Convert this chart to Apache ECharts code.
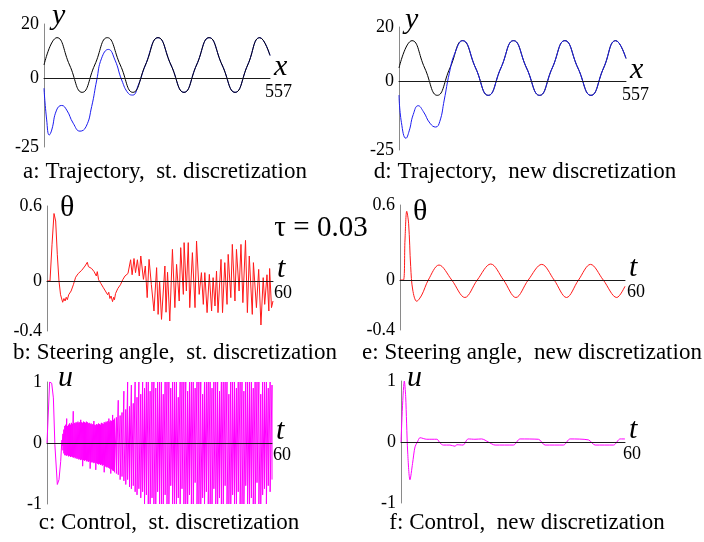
<!DOCTYPE html>
<html>
<head>
<meta charset="utf-8">
<script src="https://cdn.jsdelivr.net/npm/echarts@6/dist/echarts.min.js"></script>
<style>
  html, body { margin: 0; padding: 0; background: #fff; }
  #main { width: 704px; height: 542px; }
</style>
</head>
<body>
<div id="main"></div>
<script>
var chartDom = document.getElementById('main');
var myChart = echarts.init(chartDom);
var option;

var serif = "'Liberation Serif', 'DejaVu Serif', serif";

// trajectory: reference path (black), same in a and d
var refX = [0, 32, 63, 94, 125, 156, 188, 219, 250, 281, 313, 345, 376, 407, 439, 471, 502, 532, 557];
var refY = [5, 15, 5, -5, 5, 15, 5, -5, 5, 15, 5, -5, 5, 15, 5, -5, 5, 15, 8.5];

// a: vehicle path, standard discretization (blue) until it joins the reference
var aBlueX = [0, 6.6, 13, 19, 31, 43.6, 56, 72, 88.7, 103.5, 117.5, 130, 142, 158.6, 175, 191.5, 208, 218.6, 232.5];
var aBlueY = [-3.5, -15.1, -20.6, -18.8, -11.5, -9.8, -11.5, -16.3, -19.2, -17.6, -10.2, -0.5, 7.5, 10.7, 6.8, -0.5, -5.4, -6, -2.3];

// d: vehicle path, new discretization (blue)
var dBlueX = [0, 6, 17, 25, 35, 47, 60, 76, 90, 100, 111, 123.5, 137];
var dBlueY = [-4.9, -15, -20.7, -18, -12, -8.8, -11, -15.2, -16.6, -14.6, -6.7, 3.1, 10.4];

// b: steering angle, standard discretization
var bT = [0, 0.8, 1.33, 1.86, 2.3, 2.74, 3.18, 3.6, 4.16, 4.5, 4.8, 5.1, 5.4, 5.75, 6.1, 6.4, 6.7, 7.0, 7.3, 7.6,
  8.3, 9.2, 10.1, 10.7, 11.0, 11.3, 11.85, 12.2, 12.5, 12.8, 13.1, 13.35, 13.7, 13.95, 14.3, 14.6, 14.9, 15.2, 15.5, 15.8,
  16.1, 16.4, 16.7, 17.0, 17.4, 17.7, 17.9, 18.2, 18.5, 18.8, 19.1, 19.5, 19.8, 20.1, 20.4, 20.7, 21.1, 21.5, 21.8, 22.2,
  22.6, 23.1, 23.5, 24.0, 24.5, 24.9, 25.6, 26.1, 26.6, 27.1, 27.7, 28.4, 29.1, 29.5, 29.9, 30.4, 31.3, 31.6, 32.0, 32.6,
  33.3, 33.95, 34.4, 35.1, 35.5, 36.2, 36.4, 37.0, 37.5, 37.9, 38.6, 39.3, 39.7, 40.4, 41.0, 41.5, 41.9, 42.5, 43.1, 43.7,
  44.1, 44.6, 45.0, 45.4, 46.2, 46.6, 47.2, 47.8, 48.1, 48.8, 49.2, 49.9, 50.3, 51.0, 51.5, 52.0, 52.7, 53.2, 53.7, 54.5,
  54.8, 55.6, 56.2, 56.8, 57.4, 57.8, 58.4, 58.9, 59.1, 59.6, 60.0];
var bTheta = [0, 0, 0.29, 0.54, 0.48, 0.21, 0, -0.11, -0.17, -0.14, -0.16, -0.13, -0.15, -0.11, -0.12, -0.08, -0.09, -0.03, -0.04, 0.03,
  0.06, 0.085, 0.12, 0.15, 0.115, 0.125, 0.1, 0.105, 0.075, 0.08, 0.04, 0.075, 0.01, 0.02, -0.02, -0.005, -0.05, -0.04, -0.08, -0.065,
  -0.11, -0.09, -0.14, -0.12, -0.165, -0.13, -0.15, -0.1, -0.115, -0.06, -0.075, -0.03, -0.04, 0.01, -0.005, 0.04, 0.03, 0.06, 0.045, 0.17,
  0.05, 0.18, 0.067, 0.17, 0.04, 0.2, 0.013, 0.12, -0.133, 0.173, -0.027, -0.24, 0.107, -0.267, 0.0, -0.307, 0.12, -0.25, 0.07, -0.32,
  0.253, -0.213, 0.133, -0.16, 0.267, -0.107, 0.307, -0.08, 0.307, -0.213, 0.227, -0.213, 0.32, -0.107, 0.067, -0.187, 0.067, -0.253, 0.053, -0.24,
  0.027, -0.2, 0.08, -0.253, 0.173, -0.253, 0.147, -0.187, 0.213, -0.133, 0.293, -0.16, 0.253, -0.08, 0.293, -0.173, 0.325, -0.253, 0.2, -0.267,
  0.147, -0.213, 0.093, -0.352, 0.027, -0.187, 0.05, -0.24, 0.1, -0.213, -0.16];

// e: steering angle, new discretization
var eT = [0, 0.9, 1.33, 1.8, 2.3, 2.85, 3.4, 4.45, 5.8, 7.55, 10.4, 13.8, 17.3, 20.6, 24.2, 27.6, 30.9, 34.2, 37.8, 41.1, 44.4, 47.6, 50.8, 54.2, 57.8, 60];
var eTheta = [0, 0, 0.32, 0.55, 0.45, 0.107, -0.08, -0.17, -0.12, 0, 0.12, 0, -0.14, 0, 0.128, 0, -0.14, 0, 0.125, 0, -0.14, 0, 0.125, 0, -0.14, -0.05];

// c: control, standard discretization
var cHeadT = [0, 0.7, 1.25, 1.7, 2.1, 2.75, 3.2, 3.65, 3.9];
var cHeadU = [0, 1, 0.98, 0.74, -0.03, -0.68, -0.6, -0.3, -0.03];
// chattering, sampled every 0.25 from t = 4 to 18 (upper / lower ends of each stroke)
var cDenseStart = 4, cDenseStep = 0.25;
var cDenseHi = [0.05, 0.15, 0.22, 0.28, 0.3, 0.4, 0.28, 0.3, 0.32, 0.3, 0.33, 0.31, 0.52, 0.33, 0.32, 0.34, 0.33, 0.35, 0.33, 0.34,
  0.38, 0.34, 0.33, 0.35, 0.34, 0.33, 0.35, 0.34, 0.32, 0.33, 0.31, 0.32, 0.3, 0.31, 0.36, 0.3, 0.29, 0.31, 0.3, 0.32,
  0.31, 0.3, 0.33, 0.32, 0.31, 0.34, 0.33, 0.35, 0.34, 0.36, 0.4, 0.35, 0.37, 0.36, 0.46, 0.38, 0.4];
var cDenseLo = [-0.05, -0.12, -0.17, -0.2, -0.2, -0.21, -0.2, -0.22, -0.21, -0.23, -0.22, -0.23, -0.24, -0.23, -0.25, -0.24, -0.26, -0.25, -0.27, -0.26,
  -0.28, -0.27, -0.38, -0.28, -0.29, -0.28, -0.3, -0.29, -0.31, -0.3, -0.42, -0.31, -0.32, -0.31, -0.33, -0.32, -0.44, -0.33, -0.34, -0.35,
  -0.34, -0.36, -0.35, -0.37, -0.36, -0.48, -0.38, -0.39, -0.4, -0.39, -0.41, -0.42, -0.5, -0.43, -0.45, -0.46, -0.48];
// sampled every 0.5 from t = 18.5 to 60
var cWideStart = 18.5, cWideStep = 0.5;
var cWideHi = [0.42, 0.7, 0.45, 0.5, 0.85, 0.55, 1, 0.6, 0.95, 0.65, 1, 0.75, 1, 0.8, 1, 0.9, 1, 1, 0.85, 1,
  1, 0.9, 1, 1, 1, 0.8, 1, 1, 1, 0.9, 1, 1, 1, 0.75, 1, 1, 1, 1, 0.85, 1,
  1, 1, 0.9, 1, 1, 1, 0.8, 1, 1, 1, 1, 0.9, 1, 1, 1, 0.85, 1, 1, 1, 1,
  0.8, 1, 1, 1, 0.9, 1, 1, 1, 0.85, 1, 1, 1, 1, 0.9, 1, 1, 1, 0.8, 1, 1,
  1, 0.9, 1, 0.95];
var cWideLo = [-0.5, -0.52, -0.6, -0.55, -0.62, -0.68, -0.6, -0.72, -0.75, -0.7, -0.8, -0.85, -0.75, -0.9, -0.8, -1, -0.85, -1, -1, -0.9,
  -1, -1, -0.8, -1, -1, -1, -0.85, -1, -1, -0.7, -1, -1, -1, -0.9, -1, -0.75, -1, -1, -1, -0.85,
  -1, -1, -0.65, -1, -1, -1, -0.9, -1, -0.8, -1, -1, -1, -0.75, -1, -1, -0.9, -1, -1, -0.7, -1,
  -1, -1, -0.85, -1, -1, -0.8, -1, -1, -1, -0.7, -1, -1, -0.9, -1, -1, -0.65, -1, -1, -0.85, -0.75,
  -1, -0.7, -0.8, -0.6];

// f: control, new discretization
var fT = [0, 0.9, 1.25, 1.5, 1.8, 2.4, 3.1, 3.75, 4.4, 5.1, 6.9, 9.6, 10.5, 11.35, 13.1, 14.5, 14.9, 16.6, 18, 19.8, 21.6, 23.4, 25.2, 30.1, 31.9, 36.8, 38.6, 43.5, 45.3, 50.2, 52, 56.9, 58.7, 60];
var fU = [0, 1, 0.75, 0.31, -0.18, -0.62, -0.35, -0.08, 0, 0.07, 0.045, 0.045, -0.02, -0.05, -0.05, -0.07, -0.045, -0.05, 0.05, 0.045, 0.05, 0, -0.05, -0.05, 0.05, 0.045, -0.05, -0.05, 0.05, 0.035, -0.05, -0.05, 0.05, 0.05];

var captions = [
  'a: Trajectory,  st. discretization',
  'd: Trajectory,  new discretization',
  'b: Steering angle,  st. discretization',
  'e: Steering angle,  new discretization',
  'c: Control,  st. discretization',
  'f: Control,  new discretization'
];

function pairs(xs, ys) {
  var out = [];
  for (var i = 0; i < xs.length; i++) out.push([xs[i], ys[i]]);
  return out;
}

function joinRef(xs, ys) {
  var out = pairs(xs, ys);
  var last = xs[xs.length - 1];
  for (var i = 0; i < refX.length; i++) {
    if (refX[i] > last + 5) out.push([refX[i], refY[i]]);
  }
  return out;
}

function chatter() {
  var out = pairs(cHeadT, cHeadU);
  var i, t;
  for (i = 0; i < cDenseHi.length; i++) {
    t = cDenseStart + i * cDenseStep;
    out.push([t, cDenseHi[i]], [t, cDenseLo[i]]);
  }
  for (i = 0; i < cWideHi.length; i++) {
    t = cWideStart + i * cWideStep;
    out.push([t, cWideHi[i]], [t, cWideLo[i]]);
  }
  return out;
}

var grids = [
  { left: 44, top: 24, width: 226, height: 123 },   // a
  { left: 399, top: 27, width: 227, height: 123 },  // d
  { left: 47, top: 206, width: 226, height: 125 },  // b
  { left: 400, top: 205, width: 225, height: 125 }, // e
  { left: 47, top: 382, width: 225, height: 122 },  // c
  { left: 401, top: 381, width: 224, height: 122 }  // f
];

// labelLift: how far the end label is raised from the grid bottom up to just under the zero line
function xAx(gi, max, name, labelPad, labelLift) {
  return {
    type: 'value', gridIndex: gi, min: 0, max: max, interval: max, z: 5,
    axisLine: { onZero: true, lineStyle: { color: '#1a1a1a', width: 1 } },
    axisTick: { show: false },
    splitLine: { show: false },
    axisLabel: {
      formatter: function (v) { return v === max ? String(max) : ''; },
      align: 'left', margin: -labelLift, padding: [0, 0, 0, labelPad],
      fontFamily: serif, fontSize: 18, color: '#000'
    },
    name: name, nameLocation: 'end', nameGap: 4, nameMoveOverlap: false,
    nameTextStyle: {
      fontFamily: serif, fontStyle: 'italic', fontSize: 30, color: '#000',
      align: 'left', verticalAlign: 'bottom', padding: [0, 0, -3, 0]
    }
  };
}

function yAx(gi, min, max, step, shown, name, italic, gap, padLeft) {
  return {
    type: 'value', gridIndex: gi, min: min, max: max, interval: step,
    axisLine: { show: true, onZero: false, lineStyle: { color: '#8a8a8a', width: 1 } },
    axisTick: { show: false },
    splitLine: { show: false },
    axisLabel: {
      formatter: function (v) {
        for (var k = 0; k < shown.length; k++) {
          if (Math.abs(v - shown[k]) < 1e-6) return String(shown[k]);
        }
        return '';
      },
      margin: 5, fontFamily: serif, fontSize: 18, color: '#000'
    },
    name: name, nameLocation: 'end', nameGap: gap, nameMoveOverlap: false,
    nameTextStyle: {
      fontFamily: serif, fontStyle: italic ? 'italic' : 'normal', fontSize: 30, color: '#000',
      align: 'left', verticalAlign: 'bottom', padding: [0, 0, 0, padLeft]
    }
  };
}

function line(gi, data, color, smooth) {
  return {
    type: 'line', xAxisIndex: gi, yAxisIndex: gi, data: data,
    showSymbol: false, symbol: 'none', smooth: smooth, silent: true,
    lineStyle: { color: color, width: 1 }
  };
}

var graphics = [
  { type: 'text', x: 321, y: 228, style: { text: '\u03c4 = 0.03', font: '29px ' + serif, fill: '#000', align: 'center', verticalAlign: 'middle' } }
];
var capPos = [[165, 172], [525, 172], [175, 353], [532, 353], [169, 523], [527, 523]];
for (var i = 0; i < captions.length; i++) {
  graphics.push({
    type: 'text', x: capPos[i][0], y: capPos[i][1],
    style: { text: captions[i], font: '23px ' + serif, fill: '#000', align: 'center', verticalAlign: 'middle' }
  });
}

option = {
  animation: false,
  backgroundColor: '#fff',
  grid: grids,
  xAxis: [
    xAx(0, 557, 'x', -5, 64),
    xAx(1, 557, 'x', -4, 64),
    xAx(2, 60, 't', 1, 47),
    xAx(3, 60, 't', 2, 47),
    xAx(4, 60, 't', 1, 58),
    xAx(5, 60, 't', -2, 58)
  ],
  yAxis: [
    yAx(0, -25, 20, 5, [20, 0, -25], 'y', true, -7, 8),
    yAx(1, -25, 20, 5, [20, 0, -25], 'y', true, -8, 6),
    yAx(2, -0.4, 0.6, 0.2, [0.6, 0, -0.4], '\u03b8', false, -17, 13),
    yAx(3, -0.4, 0.6, 0.2, [0.6, 0, -0.4], '\u03b8', false, -22, 13),
    yAx(4, -1, 1, 1, [1, 0, -1], 'u', true, -11, 11),
    yAx(5, -1, 1, 1, [1, 0, -1], 'u', true, -12, 6)
  ],
  graphic: graphics,
  series: [
    line(0, joinRef(aBlueX, aBlueY), '#1c1cf0', true),
    line(0, pairs(refX, refY), '#000', true),
    line(1, pairs(refX, refY), '#000', true),
    line(1, joinRef(dBlueX, dBlueY), '#1c1cf0', true),
    line(2, pairs(bT, bTheta), '#ff1a1a', false),
    line(3, pairs(eT, eTheta), '#ff1a1a', 0.35),
    line(4, chatter(), '#ff00ff', false),
    line(5, pairs(fT, fU), '#ff00ff', 0.3)
  ]
};

if (option && typeof option === 'object') {
  myChart.setOption(option);
}

window.addEventListener('resize', myChart.resize);
</script>
</body>
</html>
